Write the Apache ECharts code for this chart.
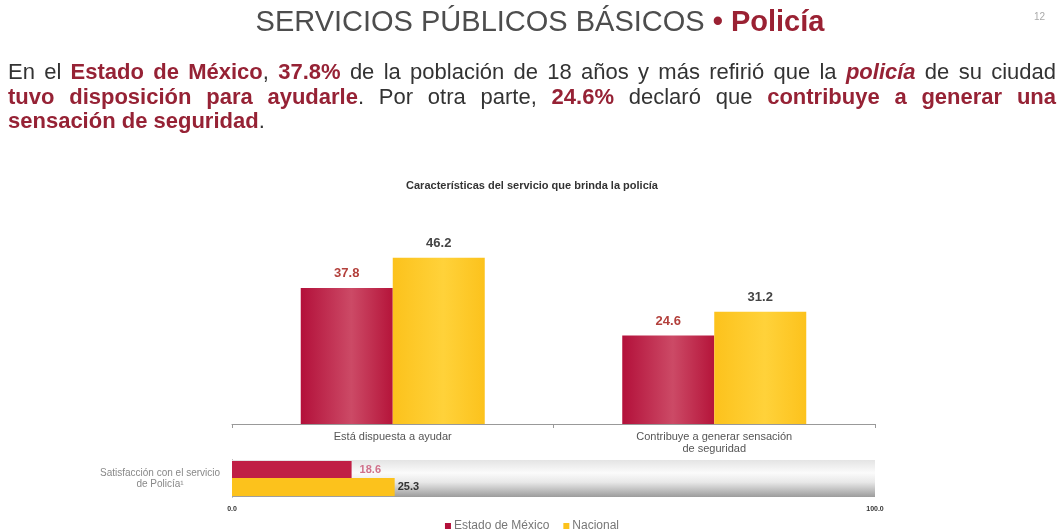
<!DOCTYPE html>
<html>
<head>
<meta charset="utf-8">
<script src="https://cdn.jsdelivr.net/npm/echarts@6/dist/echarts.min.js"></script>
<style>
  body { margin: 0; background: #fff; font-family: "Liberation Sans", Arial, sans-serif; }
  #hdr { position: absolute; left: 0; top: 0; width: 1064px; z-index: 2; }
  .tit { position: absolute; top: 5px; left: 0; width: 1080px; text-align: center; font-size: 29px; color: #4d4d4d; }
  .tit .r { color: #9a2133; font-weight: bold; }
  .pg { position: absolute; top: 11px; left: 1034px; font-size: 10px; color: #aaa; }
  .par { position: absolute; top: 60px; left: 8px; width: 1048px; font-size: 22px; line-height: 24.5px; color: #333; }
  .par div { text-align: justify; text-align-last: justify; white-space: nowrap; }
  .par div.last { text-align-last: left; }
  .par b { color: #962235; }
  #main { position: absolute; left: 0; top: 0; width: 1064px; height: 532px; }
</style>
</head>
<body>
<div id="hdr">
  <div class="tit">SERVICIOS PÚBLICOS BÁSICOS <span class="r">• Policía</span></div>
  <div class="pg">12</div>
  <div class="par">
    <div>En el <b>Estado de México</b>, <b>37.8%</b> de la población de 18 años y más refirió que la <b><i>policía</i></b> de su ciudad</div>
    <div><b>tuvo disposición para ayudarle</b>. Por otra parte, <b>24.6%</b> declaró que <b>contribuye a generar una</b></div>
    <div class="last"><b>sensación de seguridad</b>.</div>
  </div>
</div>
<div id="main"></div>
<script>
const categories = ['Está dispuesta a ayudar', 'Contribuye a generar sensación\nde seguridad'];
const estadoMexico = [37.8, 24.6];
const nacional = [46.2, 31.2];
const satisfCategory = ['Satisfacción con el servicio\nde Policía¹'];
const satisfEstado = [18.6];
const satisfNacional = [25.3];
const satisfMax = [100];
const seriesNames = ['Estado de México', 'Nacional'];

const rojo = new echarts.graphic.LinearGradient(0, 0, 1, 0, [
  { offset: 0, color: '#b3103a' },
  { offset: 0.55, color: '#cc4a66' },
  { offset: 1, color: '#b5143a' }
]);
const amarillo = new echarts.graphic.LinearGradient(0, 0, 1, 0, [
  { offset: 0, color: '#fcc21c' },
  { offset: 0.55, color: '#ffd23a' },
  { offset: 1, color: '#fcc21c' }
]);
const gris = new echarts.graphic.LinearGradient(0, 0, 0, 1, [
  { offset: 0, color: '#e4e4e4' },
  { offset: 0.35, color: '#fbfbfb' },
  { offset: 0.6, color: '#e8e8e8' },
  { offset: 1, color: '#9c9c9c' }
]);

let chart = echarts.init(document.getElementById('main'));
const font = '"Liberation Sans", Arial, sans-serif';

var option = {
  animation: false,
  textStyle: { fontFamily: font },
  title: {
    text: 'Características del servicio que brinda la policía',
    left: 'center',
    top: 175,
    textStyle: { fontSize: 11, fontWeight: 'bold', color: '#333', fontFamily: font }
  },
  legend: {
    data: [
      { name: seriesNames[0], itemStyle: { color: '#b3103a' } },
      { name: seriesNames[1], itemStyle: { color: '#fcc21c' } }
    ],
    left: 'center',
    top: 515,
    icon: 'rect',
    itemWidth: 6,
    itemHeight: 6,
    itemGap: 14,
    textStyle: { fontSize: 12, color: '#777', padding: [0, 0, 0, -2] }
  },
  grid: [
    { left: 232, width: 643, top: 244, height: 180 },
    { left: 232, width: 643, top: 460, height: 37 }
  ],
  xAxis: [
    {
      gridIndex: 0,
      type: 'category',
      data: categories,
      axisLine: { lineStyle: { color: '#999' } },
      axisTick: { show: true, length: 4, lineStyle: { color: '#999' } },
      axisLabel: { interval: 0, fontSize: 11, color: '#555', margin: 7, lineHeight: 12 }
    },
    {
      gridIndex: 1,
      type: 'value',
      min: 0,
      max: 100,
      interval: 100,
      axisLine: { show: false },
      axisTick: { show: false },
      splitLine: { show: false },
      axisLabel: {
        fontSize: 7,
        fontWeight: 'bold',
        color: '#333',
        margin: 9,
        formatter: v => v.toFixed(1)
      }
    }
  ],
  yAxis: [
    { gridIndex: 0, type: 'value', min: 0, max: 50, show: false },
    {
      gridIndex: 1,
      type: 'category',
      data: satisfCategory,
      inverse: true,
      axisLine: { show: true, lineStyle: { color: '#666' } },
      axisTick: { show: false },
      axisLabel: { fontSize: 10, color: '#888', align: 'center', margin: 72, lineHeight: 11 }
    },
    { gridIndex: 1, type: 'category', data: satisfCategory, show: false }
  ],
  series: [
    {
      name: 'fondo',
      type: 'bar',
      xAxisIndex: 1,
      yAxisIndex: 2,
      data: satisfMax,
      barWidth: 37,
      silent: true,
      itemStyle: { color: gris }
    },
    {
      name: seriesNames[0],
      type: 'bar',
      xAxisIndex: 0,
      yAxisIndex: 0,
      data: estadoMexico,
      barWidth: 92,
      barGap: '0%',
      itemStyle: { color: rojo },
      label: { show: true, position: 'top', distance: 8, fontSize: 13, fontWeight: 'bold', color: '#b3403c' }
    },
    {
      name: seriesNames[1],
      type: 'bar',
      xAxisIndex: 0,
      yAxisIndex: 0,
      data: nacional,
      barWidth: 92,
      barGap: '0%',
      itemStyle: { color: amarillo },
      label: { show: true, position: 'top', distance: 8, fontSize: 13, fontWeight: 'bold', color: '#444' }
    },
    {
      name: seriesNames[0],
      type: 'bar',
      xAxisIndex: 1,
      yAxisIndex: 1,
      data: satisfEstado,
      barWidth: 17,
      barGap: '0%',
      itemStyle: { color: '#c01f45' },
      label: { show: true, position: 'right', distance: 8, fontSize: 11, fontWeight: 'bold', color: '#d0708a' }
    },
    {
      name: seriesNames[1],
      type: 'bar',
      xAxisIndex: 1,
      yAxisIndex: 1,
      data: satisfNacional,
      barWidth: 18,
      barGap: '0%',
      itemStyle: { color: '#fcc21c' },
      label: { show: true, position: 'right', distance: 3, fontSize: 11, fontWeight: 'bold', color: '#333' }
    }
  ]
};

chart.setOption(option);
window.addEventListener('resize', () => {
  chart.resize();
});
</script>
</body>
</html>
